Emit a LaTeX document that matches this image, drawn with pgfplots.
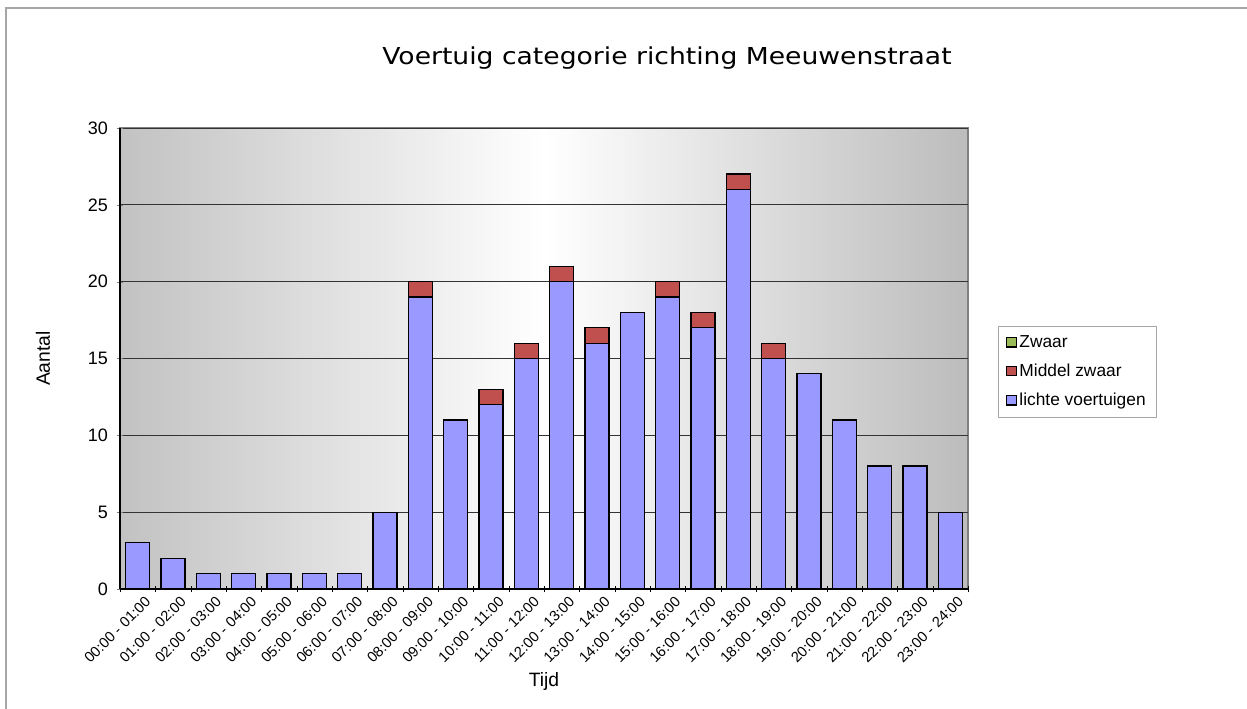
\documentclass[border=0pt]{standalone}
\usepackage{fontspec}
\setmainfont{Liberation Sans}
\newfontfamily\titlefont{DejaVu Sans}
\usepackage{pgfplots}
\pgfplotsset{compat=1.18}
\definecolor{licht}{HTML}{9999FF}
\definecolor{middel}{HTML}{C0504D}
\definecolor{zwaar}{HTML}{9BBB59}
\definecolor{bgside}{HTML}{C2C2C2}
\begin{document}
\begin{tikzpicture}
\useasboundingbox (0pt,0pt) rectangle (935.25pt,531.75pt);
\draw[gray!70, line width=0.8pt] (4.5pt,0pt) -- (4.5pt,525.75pt) -- (935.25pt,525.75pt);
\node[font=\titlefont\fontsize{17.5}{20}\selectfont] at (500.25pt,488pt) {\scalebox{1.14}[1]{Voertuig categorie richting Meeuwenstraat}};
\begin{axis}[
  at={(90pt,90pt)}, anchor=south west,
  scale only axis, width=636pt, height=345.75pt,
  ybar stacked, bar width=18pt,
  xmin=-0.5, xmax=23.5, ymin=0, ymax=30,
  ytick={0,5,...,30},
  xtick={0,...,23},
  xticklabels={00:00 - 01:00,01:00 - 02:00,02:00 - 03:00,03:00 - 04:00,04:00 - 05:00,05:00 - 06:00,06:00 - 07:00,07:00 - 08:00,08:00 - 09:00,09:00 - 10:00,10:00 - 11:00,11:00 - 12:00,12:00 - 13:00,13:00 - 14:00,14:00 - 15:00,15:00 - 16:00,16:00 - 17:00,17:00 - 18:00,18:00 - 19:00,19:00 - 20:00,20:00 - 21:00,21:00 - 22:00,22:00 - 23:00,23:00 - 24:00},
  minor xtick={-0.5,0.5,...,23.5},
  major x tick style={draw=none},
  minor x tick style={black},
  tick align=outside,
  minor tick length=5pt, major tick length=5pt,
  x tick label style={rotate=45, anchor=north east, font=\fontsize{11}{12}\selectfont, inner sep=1pt, yshift=-4pt, xshift=3pt},
  y tick label style={font=\fontsize{13.5}{15}\selectfont, xshift=-3pt},
  /pgf/number format/assume math mode=true,
  ymajorgrids, grid style={black!80, line width=0.5pt},
  axis lines=left, axis line style={-, black, line width=0.8pt},
  axis background/.style={draw=gray, line width=0.8pt, left color=bgside, right color=bgside!97!black, middle color=white},
  ylabel={Aantal}, xlabel={Tijd},
  label style={font=\fontsize{14.5}{16}\selectfont},
  ylabel style={at={(axis description cs:-0.0908,0.5)}, anchor=center},
  xlabel style={at={(axis description cs:0.5,-0.2)}, anchor=center},
  reverse legend,
  legend style={at={(1,0.4675)}, anchor=west, xshift=22.5pt, yshift=1.5pt, draw=gray!70, font=\fontsize{13}{15}\selectfont, row sep=7pt, inner xsep=6pt, inner ysep=5pt, cells={anchor=west}, legend columns=1},
  legend image code/.code={\draw[#1, line width=0.9pt] (0pt,-3.5pt) rectangle (7pt,3.5pt);},
]
\addplot[fill=licht, draw=black, line width=0.9pt] coordinates {
(0,3) (1,2) (2,1) (3,1) (4,1) (5,1) (6,1) (7,5) (8,19) (9,11) (10,12) (11,15)
(12,20) (13,16) (14,18) (15,19) (16,17) (17,26) (18,15) (19,14) (20,11) (21,8) (22,8) (23,5)};
\addlegendentry{lichte voertuigen\hspace{2pt}}
\addplot[fill=middel, draw=black, line width=0.9pt] coordinates {
(0,0) (1,0) (2,0) (3,0) (4,0) (5,0) (6,0) (7,0) (8,1) (9,0) (10,1) (11,1)
(12,1) (13,1) (14,0) (15,1) (16,1) (17,1) (18,1) (19,0) (20,0) (21,0) (22,0) (23,0)};
\addlegendentry{Middel zwaar}
\addlegendimage{fill=zwaar, draw=black}
\addlegendentry{Zwaar}
\end{axis}
\end{tikzpicture}
\end{document}
